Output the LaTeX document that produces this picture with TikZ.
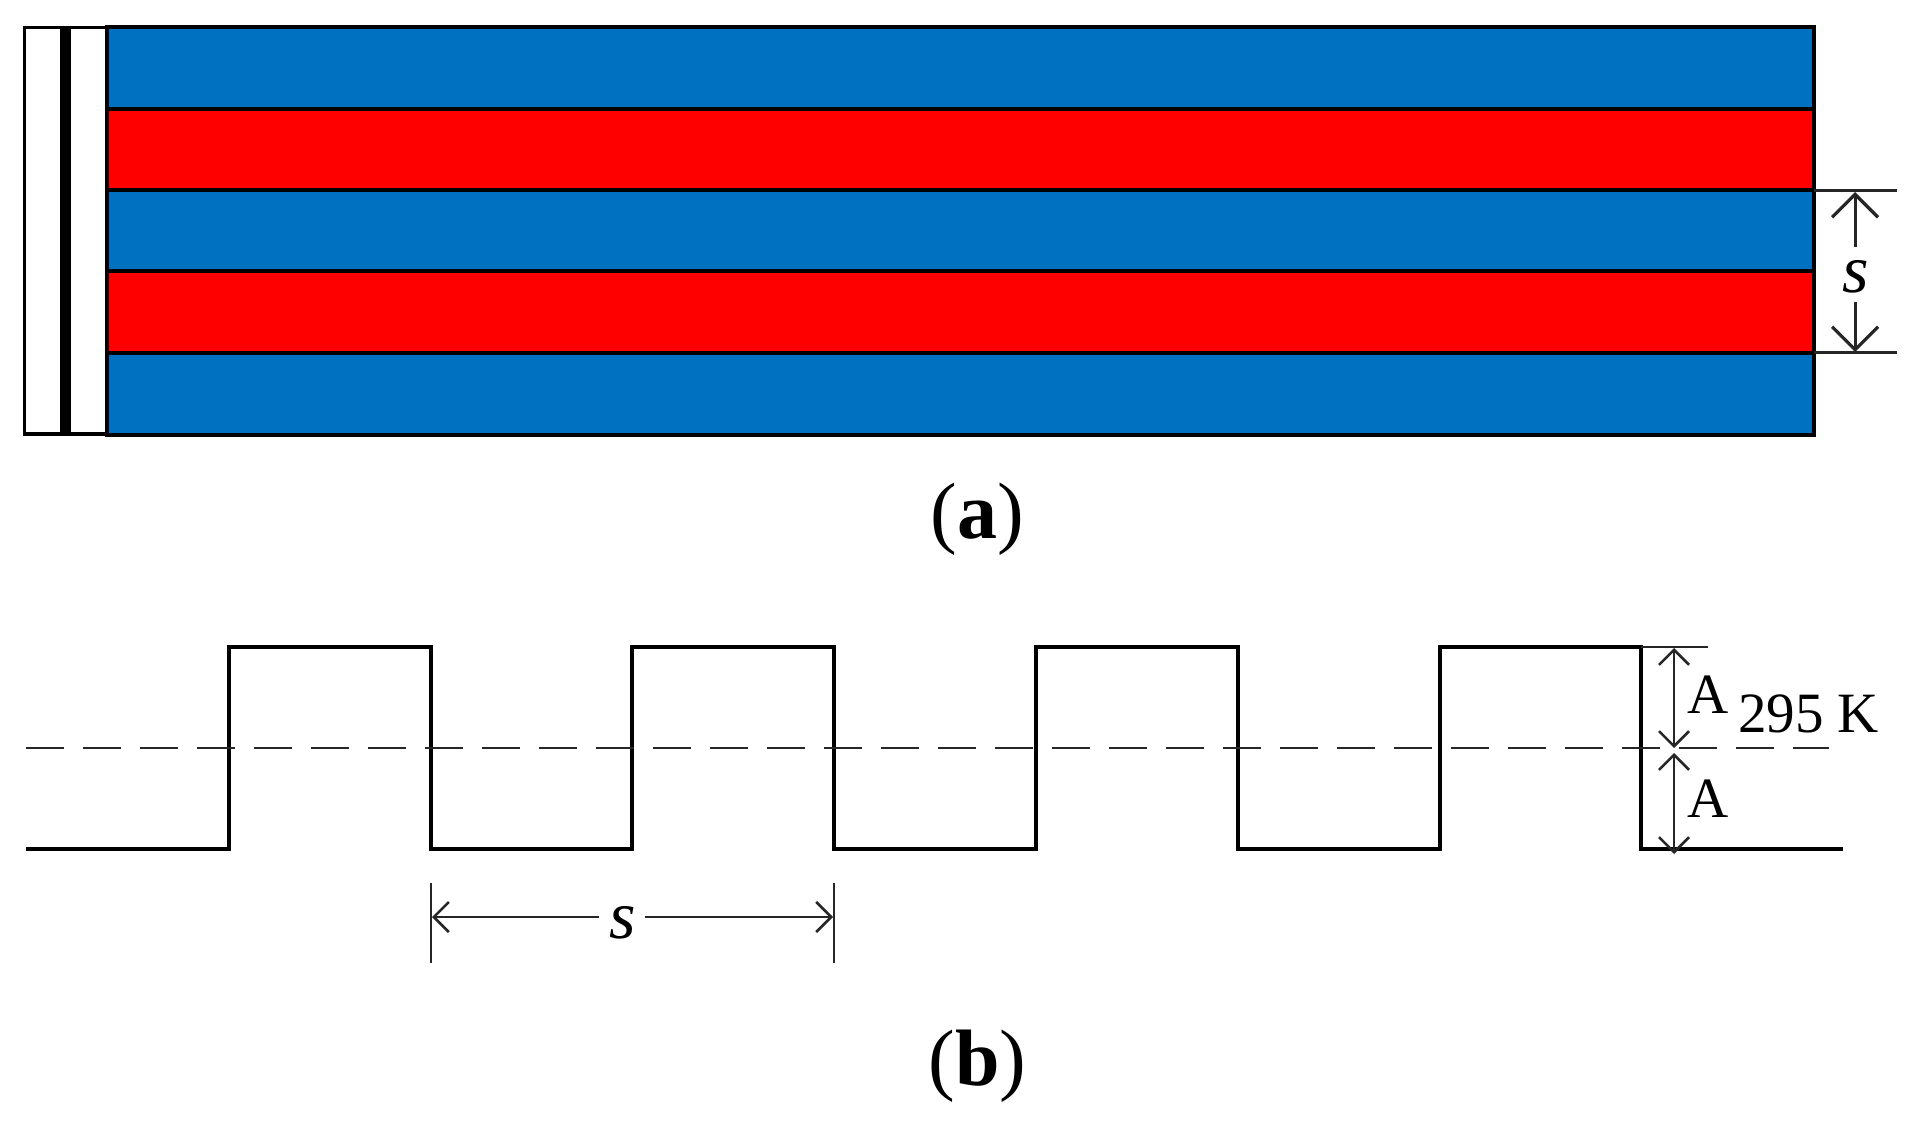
\documentclass[tikz,border=0pt]{standalone}
\usepackage{fontspec}
\setmainfont{Liberation Serif}
\usetikzlibrary{arrows.meta}
\definecolor{bandblue}{HTML}{0070C0}
\definecolor{bandred}{HTML}{FF0000}
\tikzset{
  band/.style={draw=black,line width=4pt},
  outline/.style={draw=black,line width=3.4pt},
  wave/.style={draw=black,line width=3.3pt,line join=miter,line cap=butt},
  thin dim/.style={draw=black!85,line width=2.6pt},
  bigdim/.style={thin dim,line width=3pt,-{Straight Barb[length=23pt,width=46pt,line width=3.2pt]}},
  smalldim/.style={thin dim,{Straight Barb[length=15pt,width=30pt,line width=2.6pt]}-{Straight Barb[length=15pt,width=30pt,line width=2.6pt]}},
  lab/.style={inner sep=0pt,outer sep=0pt,text=black},
  val/.style={lab,font=\fontsize{57}{60}\selectfont},
  ital/.style={lab,font=\fontsize{68}{70}\selectfont\itshape},
  captext/.style={lab,font=\fontsize{80}{84}\selectfont},
}
\begin{document}
\begin{tikzpicture}[x=1pt,y=-1pt]
\useasboundingbox (0,0) rectangle (1924,1129);
% left white block
\draw[outline,fill=white] (24.5,27.5) rectangle (106.5,434);
\fill[black] (60,27) rectangle (70.5,434);
% stripes
\draw[band,fill=bandblue] (106.5,27)  rectangle (1814,109);
\draw[band,fill=bandred]  (106.5,109) rectangle (1814,190);
\draw[band,fill=bandblue] (106.5,190) rectangle (1814,271);
\draw[band,fill=bandred]  (106.5,271) rectangle (1814,352.5);
\draw[band,fill=bandblue] (106.5,352.5) rectangle (1814,435);
% s dimension, top
\coordinate (t1) at (1814,190);
\coordinate (t1e) at (1897,190);
\coordinate (t2) at (1814,352.5);
\coordinate (t2e) at (1897,352.5);
\draw[thin dim,line width=3pt] (t1) -- (t1e);
\draw[thin dim,line width=3pt] (t2) -- (t2e);
\node[ital] (stop) at (1856,277) {s};
\coordinate (a1) at (1855,247);
\coordinate (a1t) at (1855,192);
\coordinate (a2) at (1855,302);
\coordinate (a2t) at (1855,352);
\draw[bigdim] (a1) -- (a1t);
\draw[bigdim] (a2) -- (a2t);
\node[captext] (capa) at (977.5,519) {(\textbf{a})};
% waveform
\coordinate (w0) at (26,849);
\coordinate (wend) at (1843,849);
\draw[wave] (w0) -- (229,849) -- (229,647) -- (431,647) -- (431,849) -- (632,849) -- (632,647)
  -- (834,647) -- (834,849) -- (1036,849) -- (1036,647) -- (1238,647) -- (1238,849)
  -- (1440,849) -- (1440,647) -- (1641,647) -- (1641,849) -- (wend);
% dashed level
\coordinate (d0) at (26,748);
\coordinate (d1) at (1829,748);
\draw[thin dim,dash pattern=on 38pt off 19pt] (d0) -- (d1);
% A dims
\coordinate (top1) at (1641,647);
\coordinate (top2) at (1708,647);
\draw[thin dim] (top1) -- (top2);
\coordinate (b1) at (1674,648);
\coordinate (b2) at (1674,748);
\coordinate (b3) at (1674,753);
\coordinate (b4) at (1674,854);
\draw[smalldim] (b1) -- (b2);
\draw[smalldim] (b3) -- (b4);
\node[val] (aup) at (1708,695) {A};
\node[val] (alow) at (1708,799) {A};
\node[val,anchor=base west] (kel) at (1738,732) {295 K};
% s dimension, bottom
\coordinate (l1) at (431,883);
\coordinate (l2) at (431,963);
\coordinate (r1) at (834,883);
\coordinate (r2) at (834,963);
\draw[thin dim] (l1) -- (l2);
\draw[thin dim] (r1) -- (r2);
\coordinate (h1) at (432,917);
\coordinate (h2) at (599,917);
\coordinate (h3) at (645,917);
\coordinate (h4) at (833,917);
\draw[thin dim,{Straight Barb[length=15pt,width=30pt,line width=2.6pt]}-] (h1) -- (h2);
\draw[thin dim,-{Straight Barb[length=15pt,width=30pt,line width=2.6pt]}] (h3) -- (h4);
\node[ital] (sbot) at (623,923) {s};
\node[captext] (capb) at (977.5,1066) {(\textbf{b})};
\end{tikzpicture}
\end{document}
